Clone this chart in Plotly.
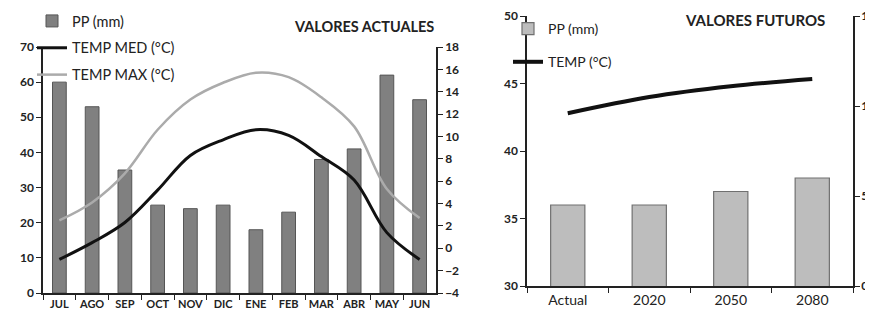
import plotly.graph_objects as go

months = ["JUL", "AGO", "SEP", "OCT", "NOV", "DIC", "ENE", "FEB", "MAR", "ABR", "MAY", "JUN"]
pp_actual = [60, 53, 35, 25, 24, 25, 18, 23, 38, 41, 62, 55]
temp_med = [-1.0, 0.5, 2.3, 5.2, 8.3, 9.7, 10.6, 10.1, 8.2, 6.1, 1.4, -1.0]
temp_max = [2.5, 4.1, 6.7, 10.6, 13.3, 14.8, 15.7, 15.3, 13.5, 10.9, 5.3, 2.7]

periods = ["Actual", "2020", "2050", "2080"]
pp_future = [36, 36, 37, 38]
temp_future = [9.6, 10.5, 11.1, 11.5]

W, H = 873, 322
OFF = 8  # page body margin offset of the plot div
FONT = "Lato"
INK = "#222222"


def fx(px):
    return (px - OFF) / W


def fy(py):
    return 1 - (py - OFF) / H


fig = go.Figure()

fig.add_trace(go.Bar(x=months, y=pp_actual, name="PP (mm)", width=0.42,
                     marker=dict(color="#808080", line=dict(color="#555555", width=1)),
                     xaxis="x", yaxis="y", legend="legend", legendgroup="a1"))
fig.add_trace(go.Scatter(x=months, y=temp_med, name="TEMP MED (°C)", mode="lines",
                         line=dict(color="#111111", width=3, shape="spline"),
                         xaxis="x", yaxis="y2", legend="legend", legendgroup="a2"))
fig.add_trace(go.Scatter(x=months, y=temp_max, name="TEMP MAX (°C)", mode="lines",
                         line=dict(color="#ababab", width=2.5, shape="spline"),
                         xaxis="x", yaxis="y2", legend="legend", legendgroup="a3"))

fig.add_trace(go.Bar(x=periods, y=pp_future, name="PP (mm)", width=0.42,
                     marker=dict(color="#bdbdbd", line=dict(color="#707070", width=1.2)),
                     xaxis="x2", yaxis="y3", legend="legend2", legendgroup="b1"))
fig.add_trace(go.Scatter(x=periods, y=temp_future, name="TEMP (°C)", mode="lines",
                         line=dict(color="#111111", width=4, shape="spline"),
                         xaxis="x2", yaxis="y4", legend="legend2", legendgroup="b2"))


def ax(**kw):
    d = dict(showgrid=False, zeroline=False, showline=True, linecolor=INK,
             linewidth=1.5, ticks="outside", ticklen=5, tickcolor=INK,
             ticklabeloverflow="allow", automargin=False,
             tickfont=dict(family=FONT, size=12, color=INK, weight="bold"))
    d.update(kw)
    return d


fig.update_layout(
    width=W, height=H,
    margin=dict(l=0, r=0, t=0, b=0, autoexpand=False),
    paper_bgcolor="white", plot_bgcolor="white",
    showlegend=True,
    xaxis=ax(domain=[fx(43), fx(436)], anchor="y", type="category",
             tickson="boundaries", tickangle=0,
             tickfont=dict(family=FONT, size=11, color=INK, weight="bold")),
    yaxis=ax(domain=[fy(293), fy(47)], anchor="x", range=[0, 70], dtick=10),
    yaxis2=ax(overlaying="y", side="right", anchor="x", range=[-4, 18], dtick=2),
    xaxis2=ax(domain=[fx(527), fx(853)], anchor="y3", type="category",
              tickson="boundaries", tickangle=0,
              tickfont=dict(family=FONT, size=14, color=INK)),
    yaxis3=ax(domain=[fy(286), fy(16)], anchor="x2", range=[30, 50], dtick=5),
    yaxis4=ax(overlaying="y3", side="right", anchor="x2", range=[0, 15], dtick=5,
              ticklabelstandoff=-1),
    legend=dict(x=fx(32), y=fy(5), xanchor="left", yanchor="top", bgcolor="rgba(0,0,0,0)",
                traceorder="grouped", tracegroupgap=5, itemwidth=30,
                font=dict(family=FONT, size=14.5, color=INK)),
    legend2=dict(x=fx(508), y=fy(13), xanchor="left", yanchor="top", bgcolor="rgba(0,0,0,0)",
                 traceorder="grouped", tracegroupgap=12, itemwidth=30,
                 font=dict(family=FONT, size=14, color=INK)),
    annotations=[
        dict(text="VALORES ACTUALES", x=fx(364), y=fy(26), xref="paper", yref="paper",
             xanchor="center", yanchor="middle", showarrow=False,
             font=dict(family=FONT, size=14.5, color=INK, weight="bold")),
        dict(text="VALORES FUTUROS", x=fx(755), y=fy(20), xref="paper", yref="paper",
             xanchor="center", yanchor="middle", showarrow=False,
             font=dict(family=FONT, size=15, color=INK, weight="bold")),
    ],
)

fig.write_html("out.html")
